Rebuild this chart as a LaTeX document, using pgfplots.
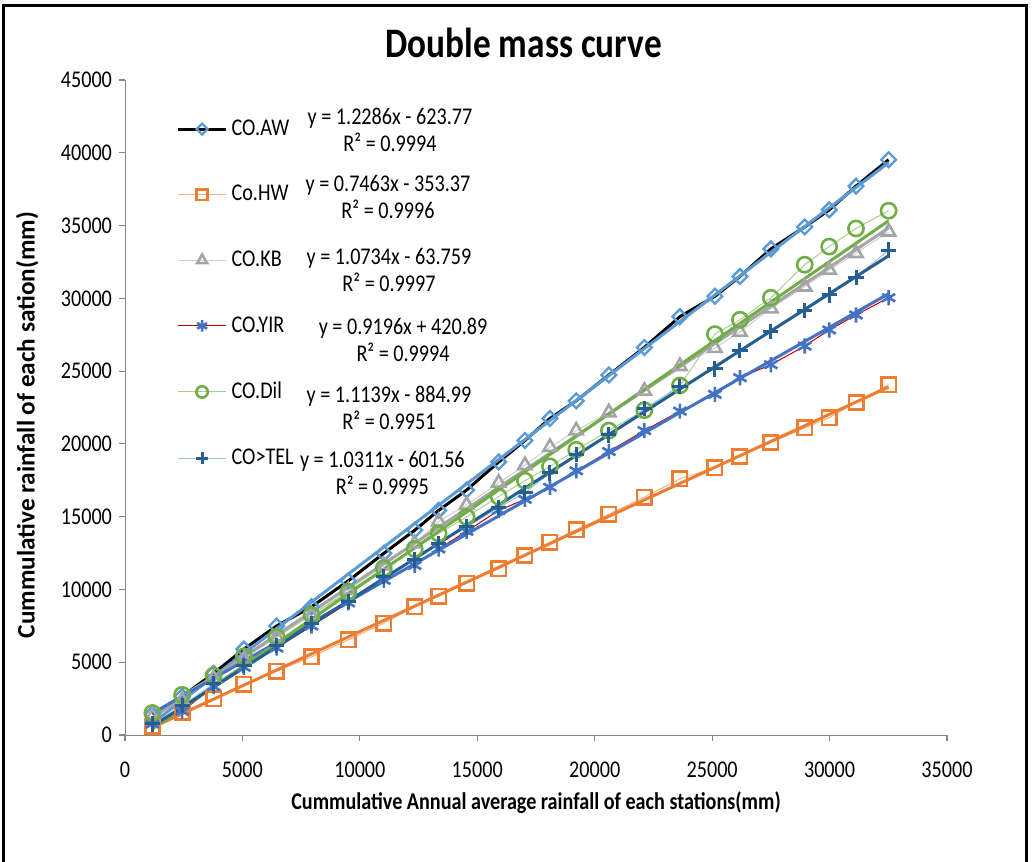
\documentclass[border=0pt]{standalone}
\usepackage{pgfplots}
\pgfplotsset{compat=1.18}
\usepackage{pgfplotstable}
\usepackage{fontspec}
\setmainfont{Carlito}[FakeStretch=0.84]
\newfontfamily\yfont{Carlito}

\definecolor{awblue}{HTML}{5B9BD5}
\definecolor{hworange}{HTML}{ED7D31}
\definecolor{hwlight}{HTML}{F4B183}
\definecolor{kbgray}{HTML}{A5A5A5}
\definecolor{kblight}{HTML}{D0D0D0}
\definecolor{yirblue}{HTML}{4472C4}
\definecolor{yirred}{HTML}{C00000}
\definecolor{dilgreen}{HTML}{70AD47}
\definecolor{dillight}{HTML}{A9D18E}
\definecolor{telblue}{HTML}{255E91}
\definecolor{tellight}{HTML}{9DC3E6}
\definecolor{axgray}{HTML}{868686}

% cumulative rainfall
\pgfplotstableread{
x     aw    hw    kb    yir   dil   tel
1167  1437  605   1248  756   1513  756
2432  2647  1551  2383  1626  2761  2004
3773  4236  2496  3895  3328  4085  3517
5063  5900  3480  5219  4652  5408  4765
6454  7488  4387  6732  5976  6732  6165
7943  8812  5371  8245  7488  8245  7677
9506  10590 6543  9947  9077  9833  9190
11020 12480 7678  11649 10627 11459 10892
12336 14069 8812  13161 11649 12783 12027
13353 15430 9531  14674 12783 13842 13161
14545 16830 10438 15809 13993 14977 14296
15910 18759 11422 17322 15430 16376 15620
17028 20234 12329 18532 16187 17473 16641
18094 21747 13237 19780 17019 18456 18002
19212 22957 14107 20914 18154 19591 19288
20603 24734 15166 22163 19477 20914 20612
22113 26625 16338 23638 20914 22314 22427
23627 28743 17600 25339 22250 24016 23940
25117 30143 18360 26587 23400 27540 25150
26185 31504 19140 27700 24550 28530 26398
27500 33395 20090 29300 25440 30040 27740
28941 34908 21100 30800 26720 32310 29150
29984 36080 21800 31950 27830 33555 30230
31125 37706 22845 33100 28855 34800 31450
32514 39522 24070 34580 30045 36020 33320
}\rain

\begin{document}
\begin{tikzpicture}
% page = 1032 x 861 px at 0.5pt per px, axis box corner at (0,0)
\path[use as bounding box] (-62.5pt,-63pt) rectangle (453.5pt,367.5pt);
\begin{axis}[
    scale only axis,
    width=411pt, height=327.5pt,
    xmin=0, xmax=35000,
    ymin=0, ymax=45000,
    xtick distance=5000,
    ytick distance=5000,
    axis lines=left,
    axis line style={axgray, -},
    tick style={axgray, line width=0.6pt},
    tick align=outside,
    major tick length=3pt,
    scaled ticks=false,
    /pgf/number format/.cd, 1000 sep={}, assume math mode=true,
    /pgfplots/.cd,
    ticklabel style={font=\fontsize{12}{14}\selectfont},
    xticklabel style={yshift=-7pt},
    title={Double mass curve},
    title style={at={(0.485,1.038)}, anchor=center, font=\fontsize{21}{24}\selectfont\bfseries},
    xlabel={Cummulative Annual average rainfall of each stations(mm)},
    xlabel style={at={(axis description cs:0.5,-0.104)}, anchor=center, font=\fontsize{12}{14}\selectfont\bfseries},
    ylabel={Cummulative rainfall of each sation(mm)},
    ylabel style={at={(axis description cs:-0.119,0.473)}, anchor=center, font=\yfont\fontsize{12.6}{14}\selectfont\bfseries},
    legend style={at={(axis description cs:0.055,0.952)}, anchor=north west,
        draw=none, fill=none, row sep=19.5pt,
        font=\fontsize{12}{14}\selectfont},
    legend cell align=left,
    legend image code/.code={\draw[mark repeat=2, mark phase=2, every mark/.append style={scale=0.75}]
        plot coordinates {(0pt,0pt) (12pt,0pt) (24pt,0pt)};},
]
\addplot[black, line width=1.5pt, mark=square, mark size=2.6pt,
    mark options={solid, rotate=45, draw=awblue, fill=white, line width=1.2pt}] table[x=x, y=aw] {\rain};
\addlegendentry{CO.AW}
\addplot[hwlight, line width=0.5pt, mark=square, mark size=3.6pt,
    mark options={solid, draw=hworange, fill=white, line width=1.3pt}] table[x=x, y=hw] {\rain};
\addlegendentry{Co.HW}
\addplot[kblight, line width=0.5pt, mark=triangle, mark size=3.8pt,
    mark options={solid, draw=kbgray, fill=white, line width=1.3pt}] table[x=x, y=kb] {\rain};
\addlegendentry{CO.KB}
\addplot[yirred, line width=0.5pt, mark=asterisk, mark size=3.8pt,
    mark options={solid, draw=yirblue, line width=1.3pt}] table[x=x, y=yir] {\rain};
\addlegendentry{CO.YIR}
\addplot[dillight, line width=0.5pt, mark=o, mark size=3.8pt,
    mark options={solid, draw=dilgreen, fill=white, line width=1.3pt}] table[x=x, y=dil] {\rain};
\addlegendentry{CO.Dil}
\addplot[tellight, line width=0.5pt, mark=+, mark size=3.8pt,
    mark options={solid, draw=telblue, line width=1.5pt}] table[x=x, y=tel] {\rain};
\addlegendentry{CO>TEL}

% linear trendlines, end points from the printed equations
\addplot[awblue, line width=1.5pt, forget plot] coordinates {(1167,810) (32514,39323)};
\addplot[hworange, line width=1.5pt, forget plot] coordinates {(1167,518) (32514,23912)};
\addplot[kbgray, line width=1.5pt, forget plot] coordinates {(1167,1189) (32514,34837)};
\addplot[yirblue, line width=1.5pt, forget plot] coordinates {(1167,1494) (32514,30321)};
\addplot[dilgreen, line width=1.5pt, forget plot] coordinates {(1167,415) (32514,35332)};
\addplot[telblue, line width=1.5pt, forget plot] coordinates {(1167,602) (32514,32924)};

\begin{scope}[every node/.style={align=center, font=\fontsize{12}{13.5}\selectfont}]
\node at (axis cs:11284,41565) {y = 1.2286x - 623.77\\R² = 0.9994};
\node at (axis cs:11199,36961) {y = 0.7463x - 353.37\\R² = 0.9996};
\node at (axis cs:11241,31946) {y = 1.0734x - 63.759\\R² = 0.9997};
\node at (axis cs:11838,27137) {y = 0.9196x + 420.89\\R² = 0.9994};
\node at (axis cs:11241,22466) {y = 1.1139x - 884.99\\R² = 0.9951};
\node at (axis cs:10958,17999) {y = 1.0311x - 601.56\\R² = 0.9995};
\end{scope}
\end{axis}
\draw[line width=1.5pt] (-60.5pt,-70pt) -- (-60.5pt,364.5pt) -- (450.5pt,364.5pt) -- (450.5pt,-70pt);
\end{tikzpicture}
\end{document}
